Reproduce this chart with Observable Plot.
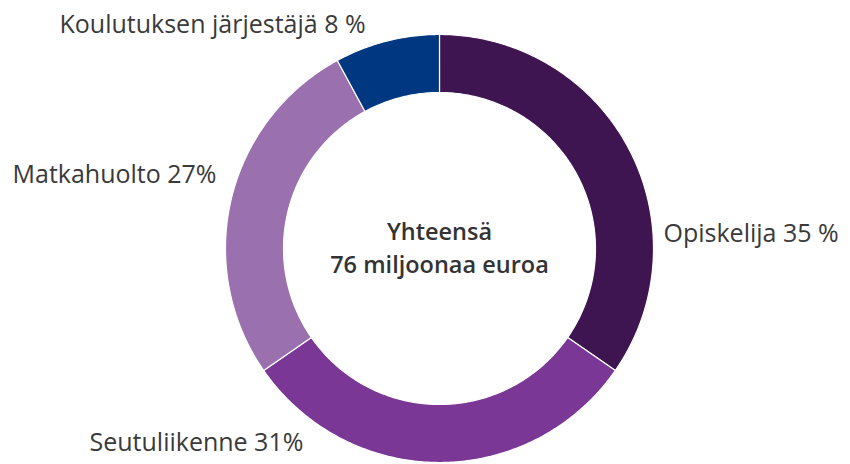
<!DOCTYPE html>
<html>
<head>
<meta charset="utf-8">
<script src="https://cdn.jsdelivr.net/npm/d3@7"></script>
<script src="https://cdn.jsdelivr.net/npm/@observablehq/plot@0.6"></script>
<style>
  html, body { margin: 0; padding: 0; background: #fff; }
  #chart svg { display: block; }
</style>
</head>
<body>
<div id="chart"></div>
<script>
// ---- data ----
const categories = ["Opiskelija", "Seutuliikenne", "Matkahuolto", "Koulutuksen järjestäjä"];
const shares = [35, 31, 27, 8];
const labels = ["Opiskelija 35 %", "Seutuliikenne 31%", "Matkahuolto 27%", "Koulutuksen järjestäjä 8 %"];
const totalLines = ["Yhteensä", "76 miljoonaa euroa"];

// ---- style / layout ----
const colors = ["#3e1550", "#7a3795", "#9a71ae", "#003781"];
const W = 850, H = 464;
const CX = 439, CY = 248, R = 214;       // centre & outer radius in px
const INNER = 156 / 214;                 // inner radius as fraction
// label anchors in px (start x, baseline y)
const labelLayout = [
  {x: 663, y: 241},
  {x: 89,  y: 450},
  {x: 12,  y: 182},
  {x: 59,  y: 32}
];

// ---- build ring polygons from shares ----
const pie = d3.pie().sort(null).value(d => d)(shares);
const ringPts = [];
pie.forEach((p, i) => {
  const n = Math.max(8, Math.ceil((p.endAngle - p.startAngle) * 80));
  for (let k = 0; k <= n; k++) {
    const a = p.startAngle + (p.endAngle - p.startAngle) * k / n;
    ringPts.push({cat: categories[i], x: Math.sin(a), y: Math.cos(a)});
  }
  for (let k = n; k >= 0; k--) {
    const a = p.startAngle + (p.endAngle - p.startAngle) * k / n;
    ringPts.push({cat: categories[i], x: INNER * Math.sin(a), y: INNER * Math.cos(a)});
  }
});

const toX = px => (px - CX) / R;
const toY = py => (CY - py) / R;
const labelData = labels.map((t, i) => ({text: t, x: toX(labelLayout[i].x), y: toY(labelLayout[i].y)}));

const chart = Plot.plot({
  width: W,
  height: H,
  margin: 0,
  style: {fontFamily: "'Open Sans', sans-serif", background: "#fff"},
  x: {domain: [toX(0), toX(W)], range: [0, W], axis: null},
  y: {domain: [toY(H), toY(0)], range: [H, 0], axis: null},
  color: {domain: categories, range: colors},
  marks: [
    Plot.line(ringPts, {x: "x", y: "y", z: "cat", fill: "cat", stroke: "#fff", strokeWidth: 1.2, curve: "linear-closed"}),
    Plot.text(labelData, {x: "x", y: "y", text: "text", textAnchor: "start", lineAnchor: "bottom", fontSize: 25, fill: "#3a3a3a", fontWeight: 400}),
    Plot.text([totalLines[0]], {x: () => 0, y: () => 0, text: d => d, lineAnchor: "bottom", dy: -9, fontSize: 23.5, fontWeight: 600, fill: "#333"}),
    Plot.text([totalLines[1]], {x: () => 0, y: () => 0, text: d => d, lineAnchor: "bottom", dy: 24, fontSize: 23.5, fontWeight: 600, fill: "#333"})
  ]
});
document.getElementById("chart").appendChild(chart);
</script>
</body>
</html>
